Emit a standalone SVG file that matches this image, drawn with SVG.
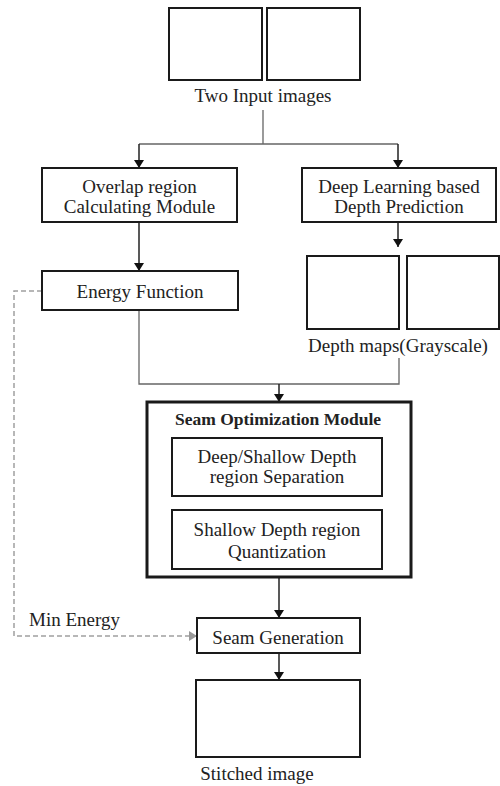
<svg xmlns="http://www.w3.org/2000/svg" width="500" height="786" viewBox="0 0 500 786">
<style>
.box{fill:#fff;stroke:#1a1a1a;stroke-width:2}
.thick{fill:#fff;stroke:#1a1a1a;stroke-width:3}
.t{font-family:"Liberation Serif","Times New Roman",serif;font-size:19px;fill:#222;text-anchor:middle}
.b{font-weight:bold;font-size:17.5px}
.ln{fill:none;stroke:#666;stroke-width:1.3}
.st{fill:none;stroke:#222;stroke-width:1.5}
.ds{fill:none;stroke:#a0a0a0;stroke-width:1.5;stroke-dasharray:5,3}
</style>
<defs>
<marker id="ah" viewBox="0 0 8 10" refX="8" refY="5" markerWidth="8" markerHeight="10" markerUnits="userSpaceOnUse" orient="auto">
<path d="M0,0 L8,5 L0,10 Z" fill="#111"/>
</marker>
<marker id="ahg" viewBox="0 0 8 10" refX="8" refY="5" markerWidth="8" markerHeight="10" markerUnits="userSpaceOnUse" orient="auto">
<path d="M0,0 L8,5 L0,10 Z" fill="#999"/>
</marker>
</defs>
<rect width="500" height="786" fill="#fff"/>
<g id="connectors">
<path class="ln" d="M263,110 V144 M139,144 H398"/>
<path class="st" d="M139,144 V168" marker-end="url(#ah)"/>
<path class="st" d="M398,144 V168" marker-end="url(#ah)"/>
<path class="st" d="M139,222 V271" marker-end="url(#ah)"/>
<path class="st" d="M398,222 V247" marker-end="url(#ah)"/>
<path class="ln" d="M139,310 V384 H399 V358"/>
<path class="st" d="M279,384 V402" marker-end="url(#ah)"/>
<path class="st" d="M278,496 V510" marker-end="url(#ah)"/>
<path class="st" d="M279,577 V618" marker-end="url(#ah)"/>
<path class="st" d="M279,653 V680" marker-end="url(#ah)"/>
<path class="ds" d="M42,291 H14 V636 H197" marker-end="url(#ahg)"/>
</g>
<g id="input-images">
<rect class="box" x="169" y="8" width="93" height="72"/>
<rect class="box" x="267" y="8" width="93" height="72"/>
<text class="t" x="263" y="102">Two Input images</text>
</g>
<g id="overlap">
<rect class="box" x="42" y="168" width="195" height="54"/>
<text class="t" x="139.5" y="193">Overlap region</text>
<text class="t" x="139.5" y="213">Calculating Module</text>
</g>
<g id="depth-prediction">
<rect class="box" x="302" y="168" width="194" height="54"/>
<text class="t" x="399" y="193">Deep Learning based</text>
<text class="t" x="399" y="213">Depth Prediction</text>
</g>
<g id="energy">
<rect class="box" x="42" y="271" width="196" height="39"/>
<text class="t" x="140" y="298">Energy Function</text>
</g>
<g id="depth-maps">
<rect class="box" x="307" y="256" width="92" height="73"/>
<rect class="box" x="407" y="256" width="92" height="73"/>
<text class="t" x="398" y="352">Depth maps(Grayscale)</text>
</g>
<g id="seam-optimization">
<rect class="thick" x="147" y="402" width="264" height="175"/>
<text class="t b" x="278" y="425">Seam Optimization Module</text>
</g>
<g id="separation">
<rect class="box" x="172" y="438" width="210" height="58"/>
<text class="t" x="277" y="463">Deep/Shallow Depth</text>
<text class="t" x="277" y="483">region Separation</text>
</g>
<g id="quantization">
<rect class="box" x="172" y="510" width="210" height="59"/>
<text class="t" x="277" y="536">Shallow Depth region</text>
<text class="t" x="277" y="558">Quantization</text>
</g>
<g id="min-energy-label">
<text class="t" x="74.5" y="626">Min Energy</text>
</g>
<g id="seam-generation">
<rect class="box" x="197" y="618" width="163" height="35"/>
<text class="t" x="278" y="644">Seam Generation</text>
</g>
<g id="stitched">
<rect class="box" x="196" y="680" width="164" height="77"/>
<text class="t" x="257" y="780">Stitched image</text>
</g>
</svg>
